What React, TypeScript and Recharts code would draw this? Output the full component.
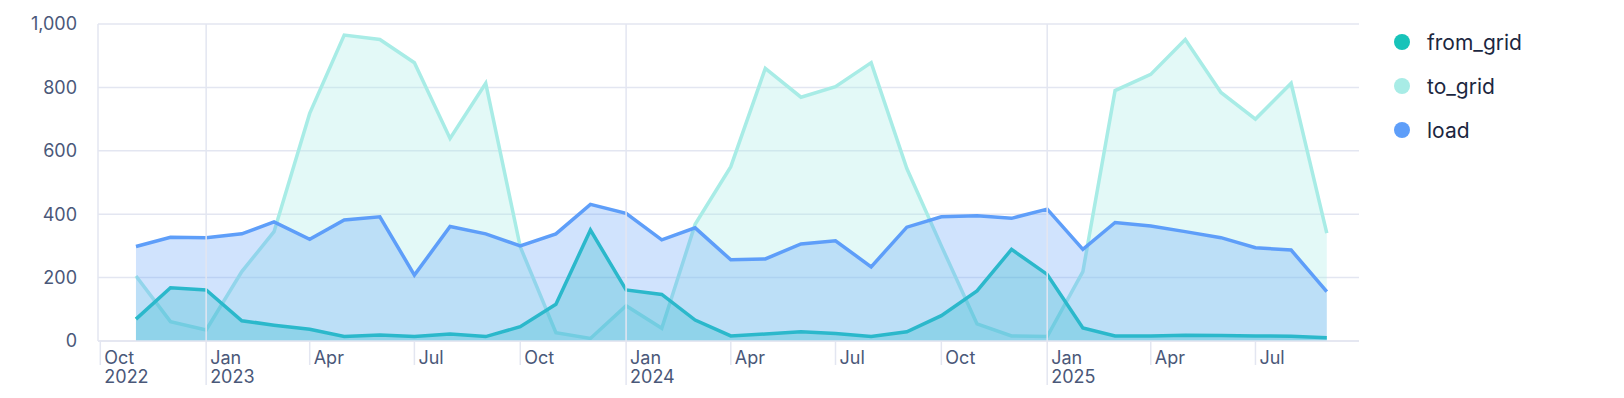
import React from 'react';
import { AreaChart, Area, XAxis, YAxis, CartesianGrid, ReferenceLine } from 'recharts';

const months = [
  '2022-11', '2022-12',
  '2023-01', '2023-02', '2023-03', '2023-04', '2023-05', '2023-06', '2023-07', '2023-08', '2023-09', '2023-10', '2023-11', '2023-12',
  '2024-01', '2024-02', '2024-03', '2024-04', '2024-05', '2024-06', '2024-07', '2024-08', '2024-09', '2024-10', '2024-11', '2024-12',
  '2025-01', '2025-02', '2025-03', '2025-04', '2025-05', '2025-06', '2025-07', '2025-08', '2025-09',
];

const fromGrid = [
  69, 168,
  161, 64, 50, 37, 14, 19, 14, 22, 14, 45, 116, 350,
  161, 147, 66, 16, 22, 29, 24, 14, 29, 80, 158, 289,
  210, 41, 16, 16, 18, 17, 16, 15, 10,
];

const toGrid = [
  205, 61,
  35, 219, 345, 718, 965, 951, 878, 639, 813, 297, 26, 8,
  111, 40, 368, 550, 860, 769, 802, 878, 544, 300, 54, 16,
  14, 219, 790, 841, 951, 784, 700, 813, 340,
];

const load = [
  298, 327,
  326, 338, 376, 321, 382, 392, 208, 361, 338, 300, 338, 431,
  403, 319, 357, 256, 259, 306, 316, 234, 359, 392, 395, 387,
  416, 289, 374, 363, 345, 326, 294, 287, 156,
];

const tickMonths = [
  '2022-10', '2023-01', '2023-04', '2023-07', '2023-10', '2024-01', '2024-04',
  '2024-07', '2024-10', '2025-01', '2025-04', '2025-07',
];
const yearLines = ['2023-01', '2024-01', '2025-01'];
const yTicks = [0, 200, 400, 600, 800, 1000];

const MONTH_NAMES = ['Jan', 'Feb', 'Mar', 'Apr', 'May', 'Jun', 'Jul', 'Aug', 'Sep', 'Oct', 'Nov', 'Dec'];

const toTime = (s: string) => {
  const [y, m] = s.split('-').map(Number);
  return Date.UTC(y, m - 1, 1);
};

const data = months.map((m, i) => ({
  t: toTime(m),
  from_grid: fromGrid[i],
  to_grid: toGrid[i],
  load: load[i],
}));

const xTicks = tickMonths.map(toTime);
const xDomain = [Date.UTC(2022, 8, 29), Date.UTC(2025, 8, 29)];

const GRID = '#e3e6f1';
const LABEL = '#4a5879';
const FONT = 'Inter, "Noto Sans", sans-serif';

const series = [
  { key: 'from_grid', color: '#17c3b9' },
  { key: 'to_grid', color: '#a8ece6' },
  { key: 'load', color: '#5e9ef9' },
];

function MonthTick(props: any) {
  const { x, y, payload } = props;
  const d = new Date(payload.value);
  const m = d.getUTCMonth();
  const first = payload.value === xTicks[0];
  const showYear = m === 0 || first;
  return (
    <g>
      <line x1={x} x2={x} y1={y} y2={y + (m === 0 ? 44 : 24)} stroke={GRID} strokeWidth={1.5} />
      <text x={x + 4} y={y + 23} fill={LABEL} fontSize={18} fontFamily={FONT}>
        {MONTH_NAMES[m]}
      </text>
      {showYear && (
        <text x={x + 4} y={y + 42} fill={LABEL} fontSize={18} fontFamily={FONT}>
          {d.getUTCFullYear()}
        </text>
      )}
    </g>
  );
}

function ValueTick(props: any) {
  const { x, y, payload } = props;
  return (
    <text x={x} y={y} dy="0.35em" textAnchor="end" fill={LABEL} fontSize={18} fontFamily={FONT}>
      {Number(payload.value).toLocaleString('en-US')}
    </text>
  );
}

function LegendList() {
  return (
    <div style={{ position: 'absolute', left: 1394, top: 20, fontFamily: FONT }}>
      {series.map((s) => (
        <div key={s.key} style={{ display: 'flex', alignItems: 'center', height: 44 }}>
          <span
            style={{ width: 16, height: 16, borderRadius: 8, background: s.color, display: 'inline-block', marginRight: 17 }}
          />
          <span style={{ fontSize: 21, color: '#1c2740' }}>{s.key}</span>
        </div>
      ))}
    </div>
  );
}

export default function App() {
  return (
    <div style={{ position: 'relative', width: 1624, height: 398, background: '#fff' }}>
      <style>{`body{margin:0}`}</style>
      <AreaChart width={1624} height={398} data={data} margin={{ top: 24, right: 265, left: 0, bottom: 0 }}>
        <CartesianGrid vertical={false} stroke={GRID} strokeWidth={1.5} />
        {yearLines.map((m) => (
          <ReferenceLine key={m} x={toTime(m)} stroke={GRID} strokeWidth={1.5} />
        ))}
        <XAxis
          dataKey="t"
          type="number"
          scale="time"
          domain={xDomain}
          ticks={xTicks}
          tick={<MonthTick />}
          tickLine={false}
          tickSize={0}
          tickMargin={0}
          axisLine={{ stroke: GRID, strokeWidth: 1.5 }}
          height={57}
          interval={0}
          allowDataOverflow
        />
        <YAxis
          type="number"
          domain={[0, 1000]}
          ticks={yTicks}
          tick={<ValueTick />}
          tickLine={false}
          tickSize={0}
          tickMargin={21}
          axisLine={{ stroke: GRID, strokeWidth: 1.5 }}
          width={98}
          interval={0}
        />
        <Area
          type="linear"
          dataKey="to_grid"
          stroke="#a8ece6"
          strokeWidth={3.5}
          fill="#a8ece6"
          fillOpacity={0.32}
          isAnimationActive={false}
          dot={false}
          activeDot={false}
        />
        <Area
          type="linear"
          dataKey="from_grid"
          stroke="#17c3b9"
          strokeWidth={3.5}
          fill="#17c3b9"
          fillOpacity={0.3}
          isAnimationActive={false}
          dot={false}
          activeDot={false}
        />
        <Area
          type="linear"
          dataKey="load"
          stroke="#5e9ef9"
          strokeWidth={3.5}
          fill="#5e9ef9"
          fillOpacity={0.29}
          isAnimationActive={false}
          dot={false}
          activeDot={false}
        />
      </AreaChart>
      <LegendList />
    </div>
  );
}
